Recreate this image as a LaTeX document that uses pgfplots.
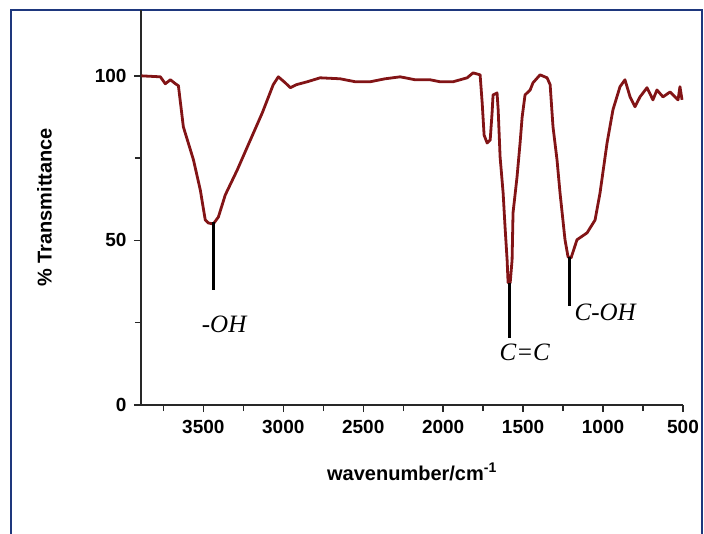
\documentclass[border=0pt]{standalone}
\usepackage{pgfplots}
\pgfplotsset{compat=1.18}
\usepackage{fontspec}
\setmainfont{Liberation Sans}
\newfontfamily\tnr{Liberation Serif}
\definecolor{spec}{RGB}{130,20,22}
\definecolor{frame}{RGB}{30,55,125}
\definecolor{axgray}{RGB}{40,40,40}
\begin{document}
\begin{tikzpicture}[x=1pt,y=1pt]
\useasboundingbox (0,0) rectangle (704,533);
\draw[frame, line width=2pt] (11,-5) -- (11,523) -- (702,523) -- (702,-5);
\begin{axis}[
  at={(141pt,128pt)}, anchor=south west,
  scale only axis, width=542pt, height=395pt,
  x dir=reverse, xmin=500, xmax=3890, ymin=0, ymax=120,
  axis x line*=bottom, axis y line*=left,
  axis line style={axgray, line width=1.6pt, -},
  xtick={500,1000,1500,2000,2500,3000,3500},
  minor xtick={750,1250,1750,2250,2750,3250,3750},
  ytick={0,50,100}, minor ytick={25,75},
  tick align=outside,
  major tick length=7pt, minor tick length=6pt,
  every tick/.style={axgray, line width=1.4pt},
  /pgf/number format/assume math mode=true,
  /pgf/number format/set thousands separator={},
  ticklabel style={font=\bfseries\fontsize{19}{19}\selectfont},
  xticklabel style={yshift=-5pt},
  yticklabel style={xshift=-4pt},
  xlabel={wavenumber/cm\textsuperscript{-1}},
  ylabel={\% Transmittance},
  label style={font=\bfseries\fontsize{20}{20}\selectfont},
  xlabel style={yshift=-22pt},
  ylabel style={yshift=36pt},
  clip=false,
]
\addplot[spec, line width=2.8pt, line join=round] table {
x y
3888 100
3769 99.7
3738 97.6
3706 98.8
3675 97.6
3656 97
3625 84.5
3562 74.5
3519 65.3
3488 56.2
3469 55.3
3438 55
3406 57.1
3363 63.8
3288 71.4
3206 80.5
3131 88.8
3063 97.3
3031 99.7
2988 97.9
2956 96.4
2919 97.3
2850 98.2
2769 99.4
2644 99.1
2550 98.2
2456 98.2
2363 99.1
2269 99.7
2175 98.8
2081 98.8
2019 98.2
1938 98.2
1850 99.4
1813 100.9
1769 100.3
1756 91.8
1744 82
1725 79.6
1706 80.5
1694 88.8
1688 94.2
1663 94.8
1656 89.7
1644 75.4
1625 64.4
1613 54.1
1600 44
1594 37.1
1581 37.1
1569 44
1563 58.4
1538 69.3
1519 79.6
1506 87.5
1488 94.2
1456 95.7
1438 97.9
1394 100.3
1350 99.4
1331 97.3
1313 84.5
1288 74.5
1269 64.4
1238 50.2
1219 45
1200 44.7
1163 50.2
1100 52.3
1050 56.2
1019 64.4
975 79.6
938 89.7
894 96.7
863 98.8
831 93.6
800 90.6
769 93.6
725 96.4
688 92.7
663 95.7
625 93.6
581 95.1
531 92.7
519 96.7
506 92.7
};
\addplot[black, line width=3pt] coordinates {(3438,55.5) (3438,35)};
\addplot[black, line width=3pt] coordinates {(1588,37) (1588,20.5)};
\addplot[black, line width=3pt] coordinates {(1212,45) (1212,30)};
\node[font=\tnr\itshape\fontsize{25}{25}\selectfont] at (axis cs:3370,24.5) {-OH};
\node[font=\tnr\itshape\fontsize{25}{25}\selectfont] at (axis cs:1490,16) {C=C};
\node[font=\tnr\itshape\fontsize{25}{25}\selectfont, anchor=west] at (axis cs:1200,28) {C-OH};
\end{axis}
\end{tikzpicture}
\end{document}
